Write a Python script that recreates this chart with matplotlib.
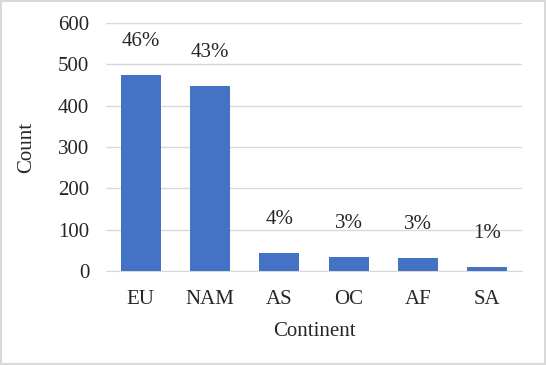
import matplotlib.pyplot as plt
from matplotlib.patches import Rectangle

continents = ['EU', 'NAM', 'AS', 'OC', 'AF', 'SA']
counts = [474, 448, 44, 34, 32, 10]
pct_labels = ['46%', '43%', '4%', '3%', '3%', '1%']

plt.rcParams['font.family'] = ['Liberation Serif', 'DejaVu Serif']

fig = plt.figure(figsize=(5.46, 3.65), dpi=100)
ax = fig.add_axes([106/546, 1 - 271/365, 416/546, 248/365])

x = range(len(continents))
bars = ax.bar(x, counts, width=0.58, color='#4472C4', zorder=3)

for b, lab in zip(bars, pct_labels):
    ax.annotate(lab, (b.get_x() + b.get_width()/2, b.get_height()),
                xytext=(0, 24), textcoords='offset points',
                ha='center', va='center', fontsize=15, color='#262626')

ax.set_xlim(-0.5, len(continents) - 0.5)
ax.set_ylim(0, 600)
ax.set_yticks(range(0, 601, 100))
ax.set_xticks(list(x))
ax.set_xticklabels(continents)
ax.yaxis.grid(True, color='#D9D9D9', linewidth=1, zorder=0)
ax.tick_params(axis='y', length=0, labelsize=15, colors='#262626', pad=12)
ax.tick_params(axis='x', length=0, labelsize=15, colors='#262626', pad=14)
for s in ['top', 'right', 'left']:
    ax.spines[s].set_visible(False)
ax.spines['bottom'].set_color('#D9D9D9')
ax.set_ylabel('Count', fontsize=15, color='#262626', labelpad=16)
ax.set_xlabel('Continent', fontsize=15, color='#262626', labelpad=9)

fig.patches.append(Rectangle((0.002, 0.003), 0.996, 0.994, transform=fig.transFigure,
                             fill=False, edgecolor='#D9D9D9', linewidth=1.5))

fig.savefig('out.png', dpi=100)
